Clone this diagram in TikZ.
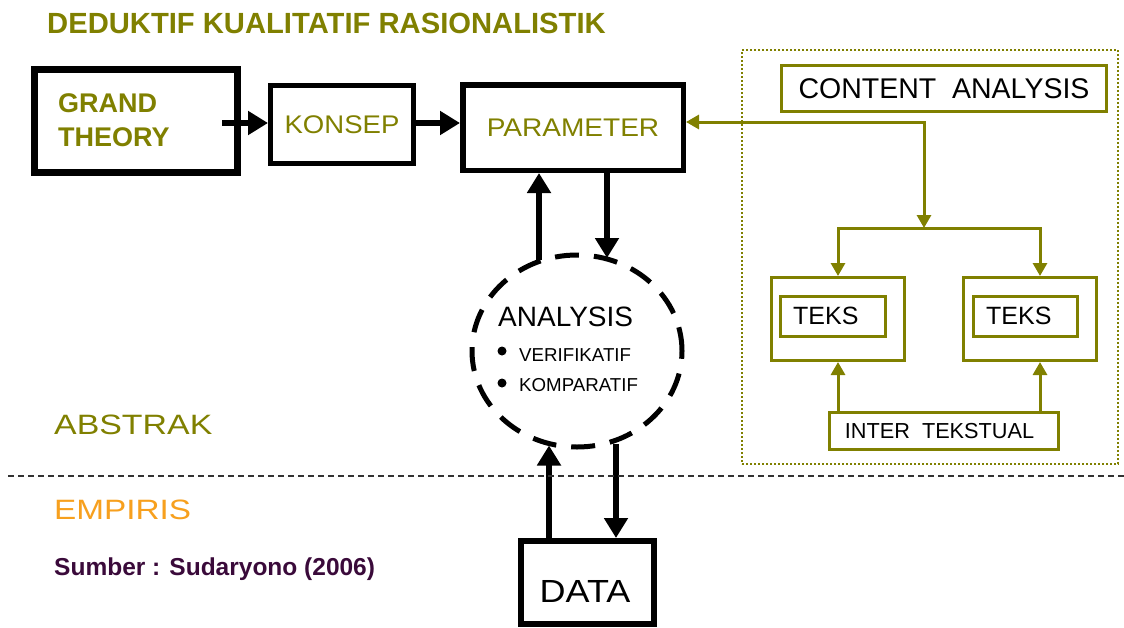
\documentclass[tikz,border=0pt]{standalone}
\usepackage{fontspec}
\setmainfont{Liberation Sans}
\usepackage{graphicx}
\usetikzlibrary{arrows.meta,shapes.geometric}
\definecolor{olivec}{RGB}{128,128,0}
\definecolor{orangec}{RGB}{247,160,30}
\definecolor{purplec}{RGB}{58,10,58}
\definecolor{linegray}{RGB}{50,50,50}
\begin{document}
\begin{tikzpicture}[x=1pt,y=-1pt,
  box/.style={draw, rectangle, inner sep=0pt},
  txt/.style={inner sep=0pt},
  bigarr/.style={line width=6.5pt, -{Triangle[length=20pt,width=23pt]}},
  olline/.style={draw=olivec, line width=3pt},
  olboth/.style={olline, {Triangle[length=13pt,width=14pt]}-{Triangle[length=13pt,width=14pt]}},
  olarr/.style={olline, -{Triangle[length=13pt,width=14pt]}},
  obox/.style={draw=olivec, line width=3pt, rectangle, inner sep=0pt},
  bullet/.style={circle, fill=black, inner sep=0pt, minimum size=9pt}
]
\useasboundingbox (0,0) rectangle (1124,627);

% title
\node[txt, anchor=west, text=olivec, font=\fontsize{29.2}{34}\selectfont\bfseries] (title) at (47,23.5) {DEDUKTIF KUALITATIF RASIONALISTIK};

% main boxes
\node[box, line width=7pt, minimum width=203pt, minimum height=103pt] (grand) at (136,121) {};
\node[txt, anchor=west, align=left, text=olivec, font=\fontsize{27}{34}\selectfont\bfseries] (grandtxt) at (58,120.5) {GRAND\\THEORY};
\node[box, line width=5pt, minimum width=143pt, minimum height=78pt, text=olivec, font=\fontsize{25.5}{30}\selectfont] (konsep) at (342,124.5) {\scalebox{1.08}[1]{KONSEP}};
\node[box, line width=5.5pt, minimum width=220.5pt, minimum height=85.5pt, text=olivec, font=\fontsize{25.5}{30}\selectfont] (param) at (573,127.5) {\scalebox{1.1}[1]{PARAMETER}};

\coordinate (ya) at (0,123);
\draw[bigarr] ([xshift=-19pt]grand.east |- ya) -- (konsep.west |- ya);
\draw[bigarr] (konsep.east |- ya) -- (param.west |- ya);

% analysis ellipse
\node[ellipse, draw, line width=5pt, dash pattern=on 24pt off 15pt, minimum width=210pt, minimum height=192pt, inner sep=0pt] (ana) at (577,351) {};
\node[txt, anchor=west, font=\fontsize{28}{32}\selectfont] (anatxt) at (498,317) {ANALYSIS};
\node[bullet] (b1) at (502,351) {};
\node[bullet] (b2) at (502,383) {};
\node[txt, anchor=west, font=\fontsize{18.7}{22}\selectfont] (ver) at (519,355) {VERIFIKATIF};
\node[txt, anchor=west, font=\fontsize{18.7}{22}\selectfont] (kom) at (519,385.5) {KOMPARATIF};

% data box
\node[box, line width=6pt, minimum width=133pt, minimum height=83pt] (data) at (587.5,582.5) {};
\node[txt, font=\fontsize{32}{36}\selectfont] (datatxt) at (585,591.5) {\scalebox{1.125}[1]{DATA}};

\coordinate (xa) at (539,0);
\coordinate (xb) at (607,0);
\coordinate (xc) at (549,0);
\coordinate (xd) at (616,0);
\draw[bigarr] ([yshift=-7pt]ana.north -| xa) -- (param.south -| xa);
\draw[bigarr] (param.south -| xb) -- ([yshift=-5.5pt]ana.north -| xb);
\draw[bigarr] (data.north -| xc) -- ([yshift=4pt]ana.south -| xc);
\draw[bigarr] ([yshift=6pt]ana.south -| xd) -- (data.north -| xd);

% abstrak / empiris
\coordinate (hl1) at (8,476);
\coordinate (hl2) at (1124,476);
\draw[linegray, line width=1.5pt, dash pattern=on 6pt off 4pt] (hl1) -- (hl2);
\node[txt, anchor=west, text=olivec, font=\fontsize{28}{32}\selectfont] (abs) at (54,425) {\scalebox{1.21}[1]{ABSTRAK}};
\node[txt, anchor=west, text=orangec, font=\fontsize{28}{32}\selectfont] (emp) at (54,510) {\scalebox{1.19}[1]{EMPIRIS}};
\node[txt, anchor=base west, text=purplec, font=\fontsize{24.5}{28}\selectfont\bfseries] (src) at (54,575) {Sumber : Sudaryono (2006)};

% right panel
\node[rectangle, draw=olivec, line width=2pt, dash pattern=on 2pt off 2pt, minimum width=376pt, minimum height=414pt, inner sep=0pt] (panel) at (930,257) {};
\node[obox, minimum width=325pt, minimum height=46pt, font=\fontsize{28.5}{32}\selectfont] (content) at (944,88.5) {CONTENT~~ANALYSIS};
\node[obox, minimum width=133pt, minimum height=83pt] (t1) at (838,319) {};
\node[obox, minimum width=133pt, minimum height=83pt] (t2) at (1030,319) {};
\node[obox, minimum width=105pt, minimum height=40pt] (i1) at (833,316.5) {};
\node[obox, minimum width=104pt, minimum height=40pt] (i2) at (1025.5,316.5) {};
\node[txt, anchor=west, font=\fontsize{25}{30}\selectfont] (teks1) at (793,316) {TEKS};
\node[txt, anchor=west, font=\fontsize{25}{30}\selectfont] (teks2) at (986,316) {TEKS};
\node[obox, minimum width=229pt, minimum height=37pt] (inter) at (944,431) {};
\node[txt, font=\fontsize{21.7}{26}\selectfont] (intertxt) at (939.5,431) {INTER~~TEKSTUAL};

\coordinate (j1) at (924,122);
\coordinate (j2) at (924,228);
\coordinate (xr) at (1040,0);
\draw[olboth] (param.east |- j1) -- (j1) -- (j2);
\draw[olboth] (t1.north) -- (t1.north |- j2) -- (xr |- j2) -- (t2.north -| xr);
\draw[olarr] (inter.north -| t1.south) -- (t1.south);
\draw[olarr] (inter.north -| xr) -- (t2.south -| xr);
\end{tikzpicture}
\end{document}
